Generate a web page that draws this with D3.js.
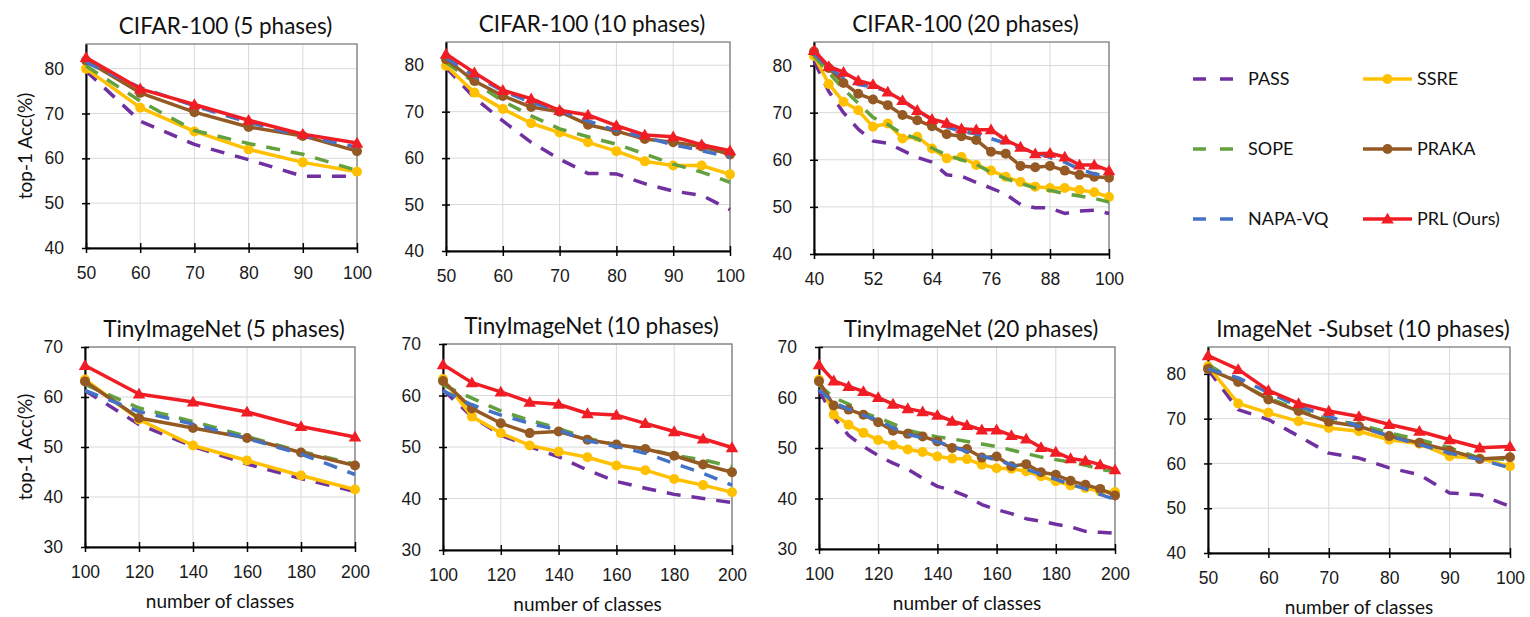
<!DOCTYPE html>
<html lang="en">
<head>
<meta charset="UTF-8">
<title>Incremental accuracy curves</title>
<script src="https://d3js.org/d3.v7.min.js"></script>
<style>
  body { margin: 0; background: #fff; }
  svg { display: block; font-family: Lato, "Open Sans", sans-serif; }
</style>
</head>
<body>
<div id="chart"></div>
<script>
// series order (also draw order): PASS, SSRE, SOPE, PRAKA, NAPA-VQ, PRL
const methods = ["PASS", "SSRE", "SOPE", "PRAKA", "NAPA-VQ", "PRL (Ours)"];

const cifar5X = [50, 60, 70, 80, 90, 100];
const cifar5Acc = [
  [79.5, 68.3, 63.1, 59.7, 56.0, 56.0],
  [80.0, 71.3, 66.0, 62.0, 59.1, 57.0],
  [80.6, 72.8, 66.2, 63.3, 60.9, 57.3],
  [81.8, 74.6, 70.3, 67.0, 65.0, 61.6],
  [81.4, 75.8, 71.7, 68.0, 65.0, 62.5],
  [82.5, 75.5, 72.0, 68.5, 65.4, 63.4]
];

const cifar10X = [50, 55, 60, 65, 70, 75, 80, 85, 90, 95, 100];
const cifar10Acc = [
  [79.5, 73.0, 68.0, 63.4, 59.8, 56.7, 56.6, 54.5, 52.9, 52.0, 48.9],
  [79.9, 74.1, 70.6, 67.5, 65.5, 63.4, 61.5, 59.3, 58.4, 58.4, 56.5],
  [80.6, 76.3, 72.3, 69.1, 66.3, 64.6, 63.0, 60.9, 58.7, 57.0, 54.8],
  [81.3, 76.6, 73.4, 71.0, 70.0, 67.2, 65.8, 64.1, 63.4, 62.5, 60.8],
  [81.6, 77.7, 74.5, 72.0, 70.2, 68.0, 65.9, 64.5, 62.9, 61.6, 60.2],
  [82.4, 78.4, 74.6, 72.8, 70.3, 69.3, 67.0, 65.0, 64.6, 62.9, 61.6]
];

const cifar20X = [40, 43, 46, 49, 52, 55, 58, 61, 64, 67, 70, 73, 76, 79, 82, 85, 88, 91, 94, 97, 100];
const cifar20Acc = [
  [81.0, 74.5, 70.0, 66.5, 64.0, 63.5, 62.0, 60.5, 59.5, 56.8, 56.5, 55.2, 54.0, 52.7, 50.5, 49.8, 49.8, 48.6, 49.1, 49.3, 48.6],
  [82.1, 76.1, 72.3, 70.5, 67.0, 67.7, 64.5, 64.9, 62.4, 60.3, 60.6, 58.9, 57.7, 56.4, 55.3, 54.3, 54.0, 54.0, 53.6, 53.1, 52.1],
  [82.0, 78.5, 75.0, 72.0, 69.0, 67.5, 65.5, 64.5, 62.5, 61.0, 60.0, 59.0, 57.3, 56.0, 55.0, 54.0, 53.5, 52.8, 52.3, 51.8, 51.0],
  [83.0, 79.5, 76.3, 74.0, 72.8, 71.6, 69.5, 68.4, 67.1, 65.4, 65.0, 64.2, 61.7, 61.3, 58.7, 58.4, 58.7, 57.7, 56.8, 56.4, 56.2],
  [82.5, 79.5, 77.5, 76.0, 75.5, 74.5, 72.5, 70.5, 68.5, 67.0, 66.0, 65.5, 64.5, 63.5, 62.5, 61.5, 60.5, 59.5, 58.0, 57.0, 56.5],
  [83.2, 79.8, 78.6, 76.8, 76.0, 74.4, 72.6, 70.5, 68.6, 67.8, 66.6, 66.4, 66.4, 64.2, 62.7, 61.3, 61.4, 60.6, 58.9, 58.9, 57.7]
];

const tiny5X = [100, 120, 140, 160, 180, 200];
const tiny5Acc = [
  [61.3, 54.5, 50.1, 46.6, 43.7, 41.1],
  [63.5, 55.5, 50.3, 47.3, 44.3, 41.5],
  [62.5, 57.8, 55.1, 52.1, 49.1, 46.6],
  [63.1, 55.8, 53.8, 51.8, 48.9, 46.3],
  [61.3, 57.1, 54.6, 51.7, 48.6, 44.5],
  [66.3, 60.6, 59.0, 57.0, 54.1, 52.0]
];

const tiny10X = [100, 110, 120, 130, 140, 150, 160, 170, 180, 190, 200];
const tiny10Acc = [
  [61.1, 55.9, 52.3, 50.1, 48.1, 45.5, 43.3, 42.0, 40.8, 40.0, 39.2],
  [63.2, 55.9, 52.7, 50.3, 49.1, 48.0, 46.4, 45.5, 43.8, 42.6, 41.2],
  [62.0, 59.5, 57.0, 55.2, 53.6, 51.7, 50.4, 49.7, 48.4, 47.5, 46.2],
  [62.8, 57.5, 54.6, 52.7, 53.0, 51.4, 50.5, 49.6, 48.3, 46.6, 45.1],
  [60.9, 58.2, 56.2, 54.6, 53.3, 51.2, 50.1, 48.8, 46.8, 44.9, 42.6],
  [66.0, 62.5, 60.7, 58.7, 58.3, 56.5, 56.2, 54.6, 53.0, 51.6, 49.9]
];

const tiny20X = [100, 105, 110, 115, 120, 125, 130, 135, 140, 145, 150, 155, 160, 165, 170, 175, 180, 185, 190, 195, 200];
const tiny20Acc = [
  [61.5, 56.0, 52.5, 50.3, 48.5, 47.0, 45.8, 44.0, 42.4, 41.6, 40.4, 38.8, 37.8, 37.0, 36.0, 35.5, 34.9, 34.4, 33.5, 33.3, 33.1],
  [63.5, 56.6, 54.6, 53.0, 51.6, 50.6, 49.7, 49.2, 48.3, 47.9, 47.8, 46.7, 46.0, 45.9, 45.4, 44.4, 43.4, 42.6, 42.1, 41.4, 41.3],
  [62.5, 60.0, 58.7, 57.0, 56.0, 54.8, 53.5, 52.8, 52.2, 51.8, 51.3, 50.8, 50.3, 49.6, 48.9, 48.2, 47.7, 47.2, 46.6, 45.8, 45.3],
  [63.2, 58.4, 57.6, 56.6, 55.1, 53.4, 52.8, 52.3, 51.3, 50.0, 49.8, 48.1, 48.3, 46.4, 46.8, 45.2, 44.7, 43.5, 42.7, 41.9, 40.6],
  [61.5, 59.0, 57.7, 56.5, 55.5, 54.0, 52.7, 52.0, 51.2, 50.3, 49.3, 48.4, 47.6, 46.7, 45.8, 44.8, 43.8, 42.8, 41.9, 40.8, 39.8],
  [66.5, 63.3, 62.2, 61.2, 60.0, 58.7, 57.8, 57.2, 56.5, 55.3, 54.5, 53.6, 53.6, 52.5, 51.8, 50.1, 49.2, 47.9, 47.5, 46.7, 45.7]
];

const imagenetX = [50, 55, 60, 65, 70, 75, 80, 85, 90, 95, 100];
const imagenetAcc = [
  [81.0, 72.0, 69.8, 66.1, 62.3, 61.2, 59.0, 57.5, 53.4, 53.0, 50.4],
  [81.7, 73.4, 71.3, 69.4, 67.9, 67.2, 65.3, 64.4, 61.6, 61.1, 59.4],
  [82.1, 78.0, 74.6, 72.0, 69.8, 68.7, 66.8, 65.3, 63.5, 61.2, 60.9],
  [81.1, 78.2, 74.3, 71.7, 69.3, 68.3, 66.1, 64.6, 62.9, 61.0, 61.4],
  [81.1, 79.1, 75.8, 72.8, 70.5, 68.3, 66.1, 64.2, 62.3, 60.9, 59.0],
  [84.1, 81.0, 76.3, 73.4, 71.7, 70.5, 68.7, 67.2, 65.3, 63.5, 63.8]
];

const cifarYTicks = [40, 50, 60, 70, 80];
const tinyYTicks = [30, 40, 50, 60, 70];

const colors = ["#7030a0", "#ffc000", "#63a03e", "#955a24", "#4472c4", "#f01e24"];
const dashed = [true, false, true, false, true, false];
const markers = [null, "circle", null, "circle", null, "triangle"];

const W = 1530, H = 617;
const svg = d3.select("#chart").append("svg").attr("width", W).attr("height", H);

const panels = [
  { title: "CIFAR-100 (5 phases)", xs: cifar5X, acc: cifar5Acc, xTicks: [50, 60, 70, 80, 90, 100],
    yDom: [40, 85.5], yTicks: cifarYTicks, box: [86, 357, 44, 248], ylab: true },
  { title: "CIFAR-100 (10 phases)", xs: cifar10X, acc: cifar10Acc, xTicks: [50, 60, 70, 80, 90, 100],
    yDom: [40, 85], yTicks: cifarYTicks, box: [446, 730, 42, 251] },
  { title: "CIFAR-100 (20 phases)", xs: cifar20X, acc: cifar20Acc, xTicks: [40, 52, 64, 76, 88, 100],
    yDom: [40, 85], yTicks: cifarYTicks, box: [814, 1109, 42, 254] },
  { title: "TinyImageNet (5 phases)", xs: tiny5X, acc: tiny5Acc, xTicks: [100, 120, 140, 160, 180, 200],
    yDom: [30, 70], yTicks: tinyYTicks, box: [85, 355, 347, 547], ylab: true, xlab: true },
  { title: "TinyImageNet (10 phases)", xs: tiny10X, acc: tiny10Acc, xTicks: [100, 120, 140, 160, 180, 200],
    yDom: [30, 70], yTicks: tinyYTicks, box: [443, 732, 344, 550], xlab: true },
  { title: "TinyImageNet (20 phases)", xs: tiny20X, acc: tiny20Acc, xTicks: [100, 120, 140, 160, 180, 200],
    yDom: [30, 70], yTicks: tinyYTicks, box: [819, 1115, 347, 549], xlab: true },
  { title: "ImageNet -Subset (10 phases)", xs: imagenetX, acc: imagenetAcc, xTicks: [50, 60, 70, 80, 90, 100],
    yDom: [40, 86], yTicks: cifarYTicks, box: [1208, 1510, 347, 553], xlab: true }
];

function drawMarker(g, kind, color, cx, cy) {
  if (kind === "circle") {
    g.append("circle").attr("cx", cx).attr("cy", cy).attr("r", 5).attr("fill", color);
  } else if (kind === "triangle") {
    g.append("path").attr("d", d3.symbol(d3.symbolTriangle, 68)())
      .attr("transform", `translate(${cx},${cy + 1})`).attr("fill", color);
  }
}

panels.forEach(p => {
  const [left, right, top, bottom] = p.box;
  const x = d3.scaleLinear().domain([p.xs[0], p.xs[p.xs.length - 1]]).range([left, right]);
  const y = d3.scaleLinear().domain(p.yDom).range([bottom, top]);
  const g = svg.append("g");

  // grid
  g.selectAll(".hg").data(p.yTicks).enter().append("line")
    .attr("x1", left).attr("x2", right).attr("y1", d => y(d)).attr("y2", d => y(d))
    .attr("stroke", "#d9d9d9").attr("stroke-width", 1);
  g.selectAll(".vg").data(p.xTicks).enter().append("line")
    .attr("x1", d => x(d)).attr("x2", d => x(d)).attr("y1", top).attr("y2", bottom)
    .attr("stroke", "#d9d9d9").attr("stroke-width", 1);
  g.append("rect").attr("x", left).attr("y", top).attr("width", right - left).attr("height", bottom - top)
    .attr("fill", "none").attr("stroke", "#7f7f7f").attr("stroke-width", 1.3);

  // axes
  const ya = g.append("g").attr("transform", `translate(${left},0)`)
    .call(d3.axisLeft(y).tickValues(p.yTicks).tickSize(4).tickSizeOuter(0).tickPadding(18));
  ya.selectAll(".tick line").attr("x1", 4).attr("x2", -4).attr("stroke", "#000").attr("stroke-width", 1.5);
  ya.select(".domain").attr("stroke", "#000").attr("stroke-width", 2);

  const xa = g.append("g").attr("transform", `translate(0,${bottom})`)
    .call(d3.axisBottom(x).tickValues(p.xTicks).tickSize(4).tickSizeOuter(0).tickPadding(15));
  xa.selectAll(".tick line").attr("y1", -5).attr("y2", 5).attr("stroke", "#000").attr("stroke-width", 1.5);
  xa.select(".domain").attr("stroke", "#000").attr("stroke-width", 2);
  g.selectAll(".tick text").attr("font-family", null).attr("font-size", null)
    .style("font-size", "17.5px").attr("fill", "#1a1a1a");

  // series
  const line = d3.line().x((d, i) => x(p.xs[i])).y(d => y(d));
  p.acc.forEach((vals, k) => {
    g.append("path").attr("d", line(vals)).attr("fill", "none")
      .attr("stroke", colors[k]).attr("stroke-width", 3.5)
      .attr("stroke-linejoin", "round")
      .attr("stroke-dasharray", dashed[k] ? "14,11" : null);
    if (markers[k]) vals.forEach((v, i) => drawMarker(g, markers[k], colors[k], x(p.xs[i]), y(v)));
  });

  // labels
  svg.append("text").attr("x", (left + right) / 2 + 4).attr("y", top - 10)
    .attr("text-anchor", "middle").style("font-size", "22.5px").attr("fill", "#111").text(p.title);
  if (p.ylab) {
    svg.append("text").attr("transform", `translate(32,${(top + bottom) / 2}) rotate(-90)`)
      .attr("text-anchor", "middle").style("font-size", "19px").attr("fill", "#111").text("top-1 Acc(%)");
  }
  if (p.xlab) {
    svg.append("text").attr("x", (left + right) / 2).attr("y", bottom + 61)
      .attr("text-anchor", "middle").style("font-size", "19px").attr("fill", "#111").text("number of classes");
  }
});

// legend
const legendCols = [[0, 2, 4], [1, 3, 5]];
const legendRows = [79, 149, 219];
legendCols.forEach((col, c) => {
  col.forEach((k, r) => {
    const yy = legendRows[r];
    const x0 = c === 0 ? 1193 : 1363, x1 = c === 0 ? 1233 : 1412;
    const lg = svg.append("g");
    lg.append("line").attr("x1", x0).attr("x2", x1).attr("y1", yy).attr("y2", yy)
      .attr("stroke", colors[k]).attr("stroke-width", 3.5)
      .attr("stroke-dasharray", dashed[k] ? "13,14" : null);
    if (markers[k]) drawMarker(lg, markers[k], colors[k], (x0 + x1) / 2, yy);
    lg.append("text").attr("x", c === 0 ? 1248 : 1417).attr("y", yy).attr("dy", "0.35em")
      .style("font-size", "18px").attr("fill", "#111").text(methods[k]);
  });
});
</script>
</body>
</html>
